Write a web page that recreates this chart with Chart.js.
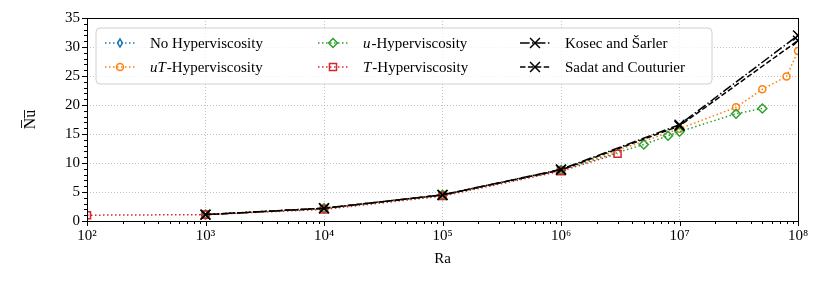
<!DOCTYPE html>
<html>
<head>
<meta charset="utf-8">
<script src="https://cdn.jsdelivr.net/npm/chart.js@4.4.1/dist/chart.umd.min.js"></script>
<style>
  body { margin: 0; background: #fff; }
  canvas { display: block; }
</style>
</head>
<body>
<canvas id="nuChart" width="830" height="291"></canvas>
<script>
// Ra vs mean Nusselt number
const raNoHyper = [1e3, 1e4, 1e5, 1e6];
const nuNoHyper = [1.1, 2.2, 4.5, 8.8];

const raUT = [1e3, 1e4, 1e5, 1e6, 1e7, 3e7, 5e7, 8e7, 1e8];
const nuUT = [1.1, 2.2, 4.5, 8.8, 15.9, 19.6, 22.7, 24.9, 29.3];

const raU = [1e3, 1e4, 1e5, 1e6, 5e6, 8e6, 1e7, 3e7, 5e7];
const nuU = [1.1, 2.2, 4.5, 8.8, 13.2, 14.7, 15.4, 18.5, 19.4];

const raT = [1e2, 1e3, 1e4, 1e5, 1e6, 3e6];
const nuT = [1.0, 1.1, 2.0, 4.3, 8.6, 11.6];

const raKosec = [1e3, 1e4, 1e5, 1e6, 1e7, 1e8];
const nuKosec = [1.1, 2.2, 4.5, 8.9, 16.6, 32.0];

const raSadat = [1e3, 1e4, 1e5, 1e6, 1e7, 1e8];
const nuSadat = [1.1, 2.2, 4.5, 8.8, 16.4, 31.1];

const xTickValues = [1e2, 1e3, 1e4, 1e5, 1e6, 1e7, 1e8];
const xTickLabels = ['10²', '10³', '10⁴', '10⁵', '10⁶', '10⁷', '10⁸'];
const yTickValues = [0, 5, 10, 15, 20, 25, 30, 35];

const FONT = "'Liberation Serif', 'DejaVu Serif', serif";
const DOT = [1.5, 2.5];
const DASH = [5.5, 2.4];
const DASHDOT = [9.6, 2.4, 1.5, 2.4];

function pts(xs, ys) {
  return xs.map((x, i) => ({ x: x, y: ys[i] }));
}

function series(label, xs, ys, color, dash, style, radius, order, extra) {
  return Object.assign({
    label: label,
    data: pts(xs, ys),
    borderColor: color,
    borderWidth: 1.5,
    borderDash: dash,
    pointStyle: style,
    pointRadius: radius,
    pointHoverRadius: radius,
    pointBorderColor: color,
    pointBackgroundColor: 'rgba(0,0,0,0)',
    pointBorderWidth: 1.5,
    tension: 0,
    order: order
  }, extra || {});
}

const datasets = [
  series('No Hyperviscosity', raNoHyper, nuNoHyper, '#1f77b4', DOT, 'rectRot', 4, 6, { legendText: [['No Hyperviscosity', false]], thin: true }),
  series('uT-Hyperviscosity', raUT, nuUT, '#ff7f0e', DOT, 'circle', 3.5, 5, { legendText: [['uT', true], ['-Hyperviscosity', false]] }),
  series('u-Hyperviscosity', raU, nuU, '#2ca02c', DOT, 'rectRot', 4.5, 4, { legendText: [['u', true], ['-Hyperviscosity', false]] }),
  series('T-Hyperviscosity', raT, nuT, '#d62728', DOT, 'rect', 5, 3, { legendText: [['T', true], ['-Hyperviscosity', false]] }),
  series('Kosec and Šarler', raKosec, nuKosec, '#000000', DASHDOT, 'crossRot', 7, 2, { legendText: [['Kosec and Šarler', false]] }),
  series('Sadat and Couturier', raSadat, nuSadat, '#000000', DASH, 'crossRot', 7, 1, { legendText: [['Sadat and Couturier', false]] })
];

// ticks, frame and the 3-column legend matplotlib-style
const framePlugin = {
  id: 'frame',
  afterDraw(chart) {
    const ctx = chart.ctx;
    const a = chart.chartArea;
    const xs = chart.scales.x, ys = chart.scales.y;
    ctx.save();
    ctx.strokeStyle = '#000';
    ctx.lineWidth = 1;
    ctx.setLineDash([]);
    ctx.beginPath();
    // x ticks
    for (let d = 2; d <= 8; d++) {
      for (let k = 1; k <= 9; k++) {
        const v = k * Math.pow(10, d);
        if (v > 1e8) break;
        const px = Math.round(xs.getPixelForValue(v)) + 0.5;
        const len = k === 1 ? 5 : 3;
        ctx.moveTo(px, a.bottom);
        ctx.lineTo(px, a.bottom + len);
      }
    }
    // y ticks
    for (let v = 0; v <= 35; v++) {
      const py = Math.round(ys.getPixelForValue(v)) + 0.5;
      const len = v % 5 === 0 ? 5 : 3;
      ctx.moveTo(a.left, py);
      ctx.lineTo(a.left - len, py);
    }
    ctx.stroke();
    ctx.strokeRect(Math.round(a.left) + 0.5, Math.round(a.top) + 0.5, Math.round(a.right - a.left), Math.round(a.bottom - a.top));

    // legend
    const lx = a.left + 9, ly = a.top + 10, lw = 616, lh = 56;
    ctx.globalAlpha = 0.8;
    ctx.fillStyle = '#fff';
    ctx.beginPath();
    ctx.roundRect(lx, ly, lw, lh, 4);
    ctx.fill();
    ctx.globalAlpha = 1;
    ctx.strokeStyle = '#d0d0d0';
    ctx.stroke();

    const colX = [lx + 9, lx + 222, lx + 424];
    const rowY = [ly + 15, ly + 39];
    chart.data.datasets.forEach((ds, i) => {
      const hx = colX[Math.floor(i / 2)];
      const hy = rowY[i % 2];
      ctx.save();
      ctx.strokeStyle = ds.borderColor;
      ctx.lineWidth = ds.borderWidth;
      ctx.setLineDash(ds.borderDash);
      ctx.beginPath();
      ctx.moveTo(hx, hy);
      ctx.lineTo(hx + 30, hy);
      ctx.stroke();
      ctx.setLineDash([]);
      ctx.fillStyle = 'rgba(0,0,0,0)';
      ctx.lineWidth = ds.pointBorderWidth;
      Chart.helpers.drawPointLegend(ctx, {
        pointStyle: ds.pointStyle, radius: ds.pointRadius,
        borderWidth: ds.pointBorderWidth, rotation: 0
      }, hx + 15, hy, ds.thin ? 5 : null);
      ctx.restore();

      let tx = hx + 45;
      ctx.fillStyle = '#000';
      ctx.textBaseline = 'middle';
      ds.legendText.forEach(seg => {
        ctx.font = (seg[1] ? 'italic ' : '') + '15px ' + FONT;
        ctx.fillText(seg[0], tx, hy + 1);
        tx += ctx.measureText(seg[0]).width + (seg[1] ? 1 : 0);
      });
    });
    ctx.restore();
  }
};

const gridStyle = {
  color: '#b0b0b0',
  lineWidth: 0.8,
  drawTicks: false
};

new Chart(document.getElementById('nuChart'), {
  type: 'line',
  data: { datasets: datasets },
  options: {
    responsive: false,
    animation: false,
    devicePixelRatio: 1,
    layout: { padding: { top: 18, right: 32, left: 0, bottom: 0 } },
    plugins: { legend: { display: false }, tooltip: { enabled: false } },
    scales: {
      x: {
        type: 'logarithmic',
        min: 1e2,
        max: 1e8,
        afterBuildTicks(scale) {
          scale.ticks = xTickValues.map(v => ({ value: v }));
        },
        afterFit(scale) { scale.height = 70; },
        ticks: {
          color: '#000',
          padding: 6,
          font: { family: FONT, size: 15 },
          maxRotation: 0,
          callback: (v, i) => xTickLabels[i]
        },
        grid: gridStyle,
        border: { display: false, dash: [1, 2] },
        title: {
          display: true,
          text: 'Ra',
          color: '#000',
          font: { family: FONT, size: 15 },
          padding: { top: 4, bottom: 23 }
        }
      },
      y: {
        min: 0,
        max: 35,
        afterBuildTicks(scale) {
          scale.ticks = yTickValues.map(v => ({ value: v }));
        },
        afterFit(scale) { scale.width = 87; },
        ticks: {
          color: '#000',
          padding: 7,
          font: { family: FONT, size: 15 }
        },
        grid: gridStyle,
        border: { display: false, dash: [1, 2] },
        title: {
          display: true,
          text: 'N\u0305u\u0305',
          color: '#000',
          font: { family: FONT, size: 16 },
          padding: { top: 21, bottom: 0 }
        }
      }
    }
  },
  plugins: [framePlugin]
});
</script>
</body>
</html>
